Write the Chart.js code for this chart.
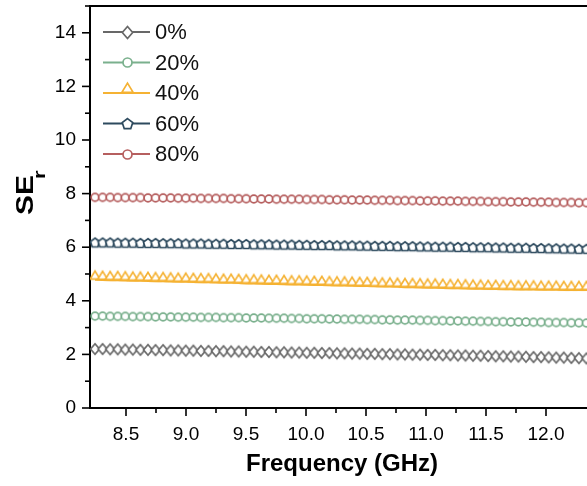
<!DOCTYPE html>
<html>
<head>
<meta charset="utf-8">
<script src="https://cdn.jsdelivr.net/npm/chart.js@4/dist/chart.umd.min.js"></script>
<style>
  html, body { margin: 0; padding: 0; background: #fff; overflow: hidden; }
  #wrap { width: 600px; height: 486px; }
</style>
</head>
<body>
<div id="wrap"><canvas id="c" width="600" height="486"></canvas></div>
<script>
// Frequency (GHz) of each plotted sample
const FREQ = [8.242, 8.305, 8.368, 8.431, 8.494, 8.557, 8.620, 8.683, 8.746, 8.809,
  8.872, 8.935, 8.998, 9.061, 9.124, 9.187, 9.250, 9.313, 9.376, 9.439,
  9.502, 9.565, 9.628, 9.691, 9.754, 9.817, 9.880, 9.943, 10.006, 10.069,
  10.132, 10.195, 10.258, 10.321, 10.384, 10.447, 10.510, 10.573, 10.636, 10.699,
  10.762, 10.825, 10.888, 10.951, 11.014, 11.077, 11.140, 11.203, 11.266, 11.329,
  11.392, 11.455, 11.518, 11.581, 11.644, 11.707, 11.770, 11.833, 11.896, 11.959,
  12.022, 12.085, 12.148, 12.211, 12.274, 12.337, 12.400];

const SERIES_NAMES = ['0%', '20%', '40%', '60%', '80%'];

const SE_0 = [2.20, 2.20, 2.19, 2.19, 2.18, 2.18, 2.17, 2.17, 2.16, 2.16,
  2.15, 2.15, 2.14, 2.14, 2.13, 2.13, 2.12, 2.12, 2.11, 2.11,
  2.10, 2.10, 2.09, 2.09, 2.08, 2.08, 2.07, 2.07, 2.06, 2.06,
  2.05, 2.05, 2.04, 2.04, 2.03, 2.03, 2.02, 2.02, 2.01, 2.01,
  2.00, 2.00, 1.99, 1.99, 1.98, 1.98, 1.97, 1.97, 1.96, 1.96,
  1.95, 1.95, 1.94, 1.93, 1.93, 1.92, 1.92, 1.91, 1.90, 1.90,
  1.89, 1.88, 1.88, 1.87, 1.86, 1.85, 1.84];

const SE_20 = [3.43, 3.43, 3.42, 3.42, 3.42, 3.41, 3.41, 3.41, 3.40, 3.40,
  3.40, 3.39, 3.39, 3.39, 3.38, 3.38, 3.38, 3.37, 3.37, 3.37,
  3.36, 3.36, 3.36, 3.35, 3.35, 3.35, 3.34, 3.34, 3.33, 3.33,
  3.33, 3.32, 3.32, 3.31, 3.31, 3.31, 3.30, 3.30, 3.29, 3.29,
  3.28, 3.28, 3.28, 3.27, 3.27, 3.26, 3.26, 3.25, 3.25, 3.24,
  3.24, 3.23, 3.23, 3.22, 3.22, 3.21, 3.21, 3.21, 3.20, 3.20,
  3.19, 3.19, 3.19, 3.18, 3.18, 3.17, 3.17];

const SE_40 = [4.79, 4.78, 4.77, 4.77, 4.76, 4.75, 4.75, 4.74, 4.73, 4.73,
  4.72, 4.71, 4.71, 4.70, 4.69, 4.69, 4.68, 4.67, 4.67, 4.66,
  4.65, 4.65, 4.64, 4.63, 4.63, 4.62, 4.61, 4.61, 4.60, 4.59,
  4.59, 4.58, 4.57, 4.57, 4.56, 4.55, 4.55, 4.54, 4.53, 4.53,
  4.52, 4.51, 4.51, 4.50, 4.49, 4.49, 4.48, 4.47, 4.47, 4.46,
  4.45, 4.45, 4.44, 4.44, 4.43, 4.43, 4.42, 4.42, 4.42, 4.41,
  4.41, 4.41, 4.40, 4.40, 4.40, 4.40, 4.39];

const SE_60 = [6.18, 6.18, 6.18, 6.17, 6.17, 6.17, 6.16, 6.16, 6.16, 6.15,
  6.15, 6.15, 6.14, 6.14, 6.14, 6.13, 6.13, 6.13, 6.12, 6.12,
  6.12, 6.11, 6.11, 6.11, 6.10, 6.10, 6.10, 6.09, 6.09, 6.08,
  6.08, 6.08, 6.07, 6.07, 6.07, 6.06, 6.06, 6.05, 6.05, 6.05,
  6.04, 6.04, 6.04, 6.03, 6.03, 6.02, 6.02, 6.02, 6.01, 6.01,
  6.00, 6.00, 6.00, 5.99, 5.99, 5.98, 5.98, 5.98, 5.97, 5.97,
  5.96, 5.96, 5.95, 5.95, 5.94, 5.94, 5.93];

const SE_80 = [7.86, 7.86, 7.86, 7.85, 7.85, 7.85, 7.85, 7.84, 7.84, 7.84,
  7.84, 7.83, 7.83, 7.83, 7.82, 7.82, 7.82, 7.82, 7.81, 7.81,
  7.81, 7.80, 7.80, 7.80, 7.79, 7.79, 7.79, 7.79, 7.78, 7.78,
  7.78, 7.77, 7.77, 7.77, 7.76, 7.76, 7.76, 7.75, 7.75, 7.75,
  7.74, 7.74, 7.74, 7.73, 7.73, 7.73, 7.72, 7.72, 7.72, 7.71,
  7.71, 7.71, 7.70, 7.70, 7.70, 7.69, 7.69, 7.69, 7.68, 7.68,
  7.68, 7.67, 7.67, 7.67, 7.66, 7.66, 7.66];

const COLORS = ['#686868', '#7ab08d', '#f5b233', '#2d4a5e', '#b65f5f'];
const SHAPES = ['diamond', 'circle', 'triangle', 'pentagon', 'circle'];

// Hollow marker sprites (white fill, coloured outline)
function makeMarker(shape, color, k) {
  const c = document.createElement('canvas');
  c.width = Math.ceil(16 * k);
  c.height = Math.ceil((shape === 'triangle' ? 26 : 16) * k);
  const g = c.getContext('2d');
  const cx = c.width / 2, cy = c.height / 2;
  g.lineWidth = 1.7;
  g.strokeStyle = color;
  g.fillStyle = '#ffffff';
  g.beginPath();
  if (shape === 'circle') {
    g.arc(cx, cy, 3.9 * k, 0, Math.PI * 2);
  } else if (shape === 'diamond') {
    g.moveTo(cx, cy - 5.2 * k);
    g.lineTo(cx + 4.5 * k, cy);
    g.lineTo(cx, cy + 5.2 * k);
    g.lineTo(cx - 4.5 * k, cy);
    g.closePath();
  } else if (shape === 'pentagon') {
    for (let n = 0; n < 5; n++) {
      const a = -Math.PI / 2 + n * 2 * Math.PI / 5;
      const px = cx + 4.8 * k * Math.cos(a), py = cy + 0.6 * k + 4.8 * k * Math.sin(a);
      if (n === 0) g.moveTo(px, py); else g.lineTo(px, py);
    }
    g.closePath();
  } else if (shape === 'triangle') {
    // sits on top of the line
    g.moveTo(cx, cy - 8.6 * k);
    g.lineTo(cx + 4.9 * k, cy - 0.6);
    g.lineTo(cx - 4.9 * k, cy - 0.6);
    g.closePath();
  }
  g.fill();
  g.stroke();
  return c;
}

const VALUES = [SE_0, SE_20, SE_40, SE_60, SE_80];
const MARKERS = SHAPES.map((s, i) => makeMarker(s, COLORS[i], 1));
const LEGEND_MARKERS = SHAPES.map((s, i) => makeMarker(s, COLORS[i], 1.15));

const datasets = SERIES_NAMES.map((name, i) => ({
  label: name,
  data: FREQ.map((f, k) => ({ x: f, y: VALUES[i][k] })),
  borderColor: COLORS[i],
  backgroundColor: '#ffffff',
  borderWidth: 2,
  pointStyle: MARKERS[i],
  pointRadius: 4,
  pointHoverRadius: 4,
  tension: 0
}));

const FONT = "'Liberation Sans', Arial, sans-serif";

// Tick marks (outward), frame top edge, legend and the y-axis title
const decorations = {
  id: 'decorations',
  afterDraw(chart) {
    const ctx = chart.ctx;
    const area = chart.chartArea;
    const xs = chart.scales.x, ys = chart.scales.y;
    ctx.save();
    ctx.strokeStyle = '#000';
    ctx.lineWidth = 1.6;
    // x ticks
    xs.ticks.forEach(t => {
      const q = Math.round(t.value * 4);
      if (Math.abs(t.value * 4 - q) > 1e-6) return;
      const major = q % 2 === 0;
      const px = xs.getPixelForValue(t.value);
      ctx.beginPath();
      ctx.moveTo(px, area.bottom);
      ctx.lineTo(px, area.bottom + (major ? 8 : 5));
      ctx.stroke();
    });
    // y ticks
    ys.ticks.forEach(t => {
      const major = Math.round(t.value) % 2 === 0;
      const py = ys.getPixelForValue(t.value);
      ctx.beginPath();
      ctx.moveTo(area.left, py);
      ctx.lineTo(area.left - (major ? 8 : 5), py);
      ctx.stroke();
    });
    // top and right frame edges
    ctx.lineWidth = 2;
    ctx.beginPath();
    ctx.moveTo(area.left - 1, area.top);
    ctx.lineTo(area.right, area.top);
    ctx.lineTo(area.right, area.bottom);
    ctx.stroke();

    // legend
    const rowY = [32, 62.5, 93, 123.5, 154];
    chart.data.datasets.forEach((ds, i) => {
      const y = rowY[i];
      ctx.strokeStyle = ds.borderColor;
      ctx.lineWidth = 2;
      ctx.beginPath();
      ctx.moveTo(103, y);
      ctx.lineTo(150, y);
      ctx.stroke();
      const m = LEGEND_MARKERS[i];
      ctx.drawImage(m, Math.round(127 - m.width / 2), Math.round(y - m.height / 2));
      ctx.fillStyle = '#111';
      ctx.font = '22px ' + FONT;
      ctx.textBaseline = 'middle';
      ctx.textAlign = 'left';
      ctx.fillText(ds.label, 155, y + 1);
    });

    // y-axis title: SE with subscript r
    ctx.translate(33, 215);
    ctx.rotate(-Math.PI / 2);
    ctx.scale(1.3, 1);
    ctx.fillStyle = '#000';
    ctx.textAlign = 'left';
    ctx.textBaseline = 'alphabetic';
    ctx.font = 'bold 23px ' + FONT;
    ctx.fillText('SE', 0, 0);
    const w = ctx.measureText('SE').width;
    ctx.font = 'bold 17px ' + FONT;
    ctx.fillText('r', w - 3, 12);
    ctx.restore();
  }
};

new Chart(document.getElementById('c'), {
  type: 'line',
  data: { datasets },
  options: {
    responsive: false,
    animation: false,
    events: [],
    layout: { padding: { top: 5, right: 4, left: 0, bottom: 0 } },
    plugins: { legend: { display: false }, tooltip: { enabled: false } },
    scales: {
      x: {
        type: 'linear',
        min: 8.2,
        max: 12.4,
        grid: { display: false, drawTicks: false },
        border: { display: true, color: '#000', width: 2 },
        ticks: {
          stepSize: 0.25,
          autoSkip: false,
          maxRotation: 0,
          padding: 15,
          color: '#000',
          font: { family: FONT, size: 19 },
          callback: v => {
            const h = v * 2;
            return Math.abs(h - Math.round(h)) < 1e-6 ? v.toFixed(1) : '';
          }
        },
        title: {
          display: true,
          text: 'Frequency (GHz)',
          color: '#000',
          font: { family: FONT, size: 24, weight: 'bold' },
          padding: { top: 0, bottom: 7 }
        },
        afterFit: s => {
          s.height = 78;
          s.paddingLeft = 0;
          s.paddingRight = 0;
        }
      },
      y: {
        min: 0,
        max: 15,
        grid: { display: false, drawTicks: false },
        border: { display: true, color: '#000', width: 2 },
        ticks: {
          stepSize: 1,
          autoSkip: false,
          padding: 14,
          color: '#000',
          font: { family: FONT, size: 19 },
          callback: v => (Math.round(v) % 2 === 0 ? String(v) : '')
        },
        afterFit: s => {
          s.width = 90;
          s.paddingTop = 0;
          s.paddingBottom = 0;
        }
      }
    }
  },
  plugins: [decorations]
});
</script>
</body>
</html>
